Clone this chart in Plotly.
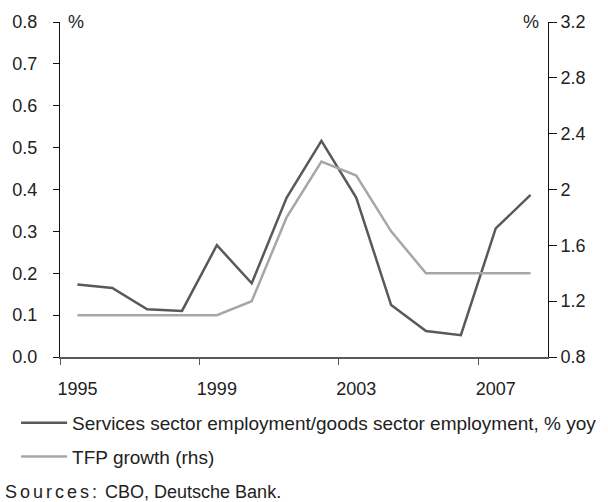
import plotly.graph_objects as go

years = list(range(1995, 2009))
services_vs_goods = [0.173, 0.165, 0.114, 0.110, 0.267, 0.176, 0.380, 0.516,
                     0.380, 0.124, 0.062, 0.052, 0.307, 0.387]
tfp_growth = [1.1, 1.1, 1.1, 1.1, 1.1, 1.2, 1.8, 2.2, 2.1, 1.7, 1.4, 1.4, 1.4, 1.4]
label_years = [1995, 1999, 2003, 2007]
boundary_ticks = [1994.5, 1998.5, 2002.5, 2006.5]

FONT = "Liberation Sans, Arial, sans-serif"
TXT = "#222222"
DARK = "#595959"
LIGHT = "#a7a7a7"

fig = go.Figure()
fig.add_trace(go.Scatter(
    x=years, y=services_vs_goods, mode="lines",
    line=dict(color=DARK, width=2.5),
    name="Services sector employment/goods sector employment, % yoy",
    legendgroup="a",
))
fig.add_trace(go.Scatter(
    x=years, y=tfp_growth, mode="lines", yaxis="y2",
    line=dict(color=LIGHT, width=2.5),
    name="TFP growth (rhs)",
    legendgroup="b",
))

fig.update_layout(
    width=608, height=502,
    margin=dict(l=56, r=60, t=19, b=145),
    paper_bgcolor="white", plot_bgcolor="white",
    font=dict(family=FONT, size=18, color=TXT),
    showlegend=True,
    legend=dict(
        x=-0.09, y=-0.14, xanchor="left", yanchor="top",
        orientation="v", itemwidth=46, tracegroupgap=6,
        font=dict(size=19, color=TXT), bgcolor="rgba(0,0,0,0)",
    ),
    xaxis=dict(
        range=[1994.5, 2008.5], tickvals=label_years,
        ticktext=[str(y) for y in label_years],
        ticks="", showgrid=False, zeroline=False,
        showline=True, linecolor=DARK, linewidth=2,
        ticklabelstandoff=14,
        tickfont=dict(size=18, color=TXT),
        minor=dict(tickvals=boundary_ticks, ticks="outside", ticklen=6,
                   tickcolor=DARK, tickwidth=1, showgrid=False),
    ),
    yaxis=dict(
        range=[0, 0.8], dtick=0.1, tickformat=".1f",
        ticks="outside", ticklen=6, tickcolor="#111111", tickwidth=1,
        showline=True, linecolor="#111111", linewidth=1,
        showgrid=False, zeroline=False, ticklabelstandoff=12,
        tickfont=dict(size=18, color=TXT),
    ),
    yaxis2=dict(
        range=[0.8, 3.2], dtick=0.4, overlaying="y", side="right", anchor="x",
        ticks="outside", ticklen=8, tickcolor="#111111", tickwidth=1,
        showline=True, linecolor="#111111", linewidth=1,
        showgrid=False, zeroline=False,
        tickfont=dict(size=18, color=TXT),
    ),
    annotations=[
        dict(text="%", xref="paper", yref="paper", x=0.012, y=1.0,
             xanchor="left", yanchor="middle", showarrow=False,
             font=dict(size=18, color=TXT)),
        dict(text="%", xref="paper", yref="paper", x=0.985, y=1.0,
             xanchor="right", yanchor="middle", showarrow=False,
             font=dict(size=18, color=TXT)),
        dict(text='<span style="letter-spacing:3px">Sources:</span> CBO, Deutsche Bank.',
             xref="paper", yref="paper",
             x=-0.117, y=-0.402, xanchor="left", yanchor="middle", showarrow=False,
             font=dict(size=18, color=TXT)),
    ],
)

fig.write_html("out.html")
